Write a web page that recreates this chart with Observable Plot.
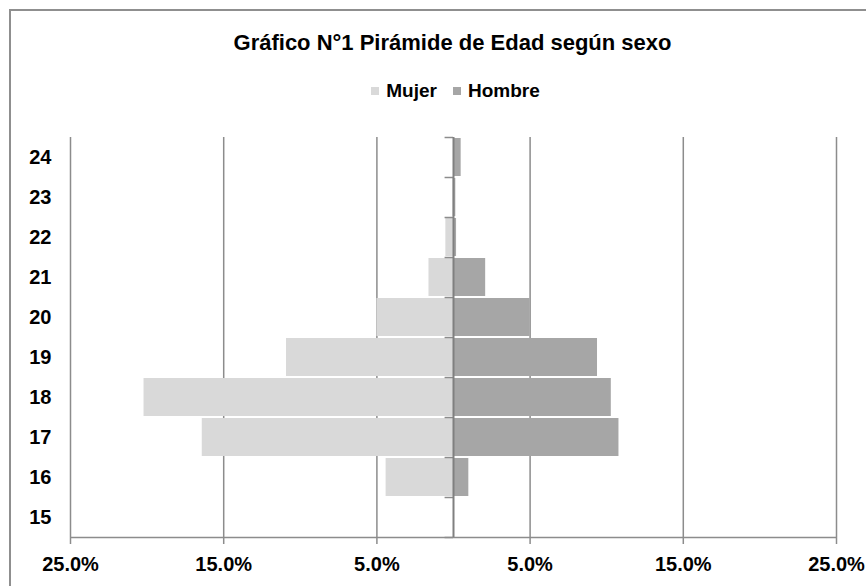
<!DOCTYPE html>
<html><head><meta charset="utf-8">
<script src="https://cdn.jsdelivr.net/npm/d3@7"></script>
<script src="https://cdn.jsdelivr.net/npm/@observablehq/plot@0.6"></script>
<style>
body{margin:0;background:#fff;font-family:"Liberation Sans",Arial,sans-serif;}
#wrap{position:relative;width:866px;height:586px;overflow:hidden;background:#fff;}
#frame{position:absolute;left:9px;top:9px;width:900px;height:640px;border:2px solid #8f8f8f;box-sizing:border-box;}
#title{position:absolute;left:0;top:32px;width:905px;text-align:center;font-weight:bold;font-size:22px;line-height:22px;color:#000;}
#legend{position:absolute;left:0;top:81px;width:911px;display:flex;justify-content:center;align-items:center;font-weight:bold;font-size:19px;line-height:19px;color:#000;}
#legend .sw{width:8px;height:8px;display:inline-block;margin-right:7px;}
#legend .item{display:flex;align-items:center;margin:0 8px;}
#chart{position:absolute;left:0;top:110px;}
</style></head>
<body>
<div id="wrap">
  <div id="frame"></div>
  <div id="title">Gráfico N°1 Pirámide de Edad según sexo</div>
  <div id="legend"></div>
  <div id="chart"></div>
</div>
<script>
const ages = [15, 16, 17, 18, 19, 20, 21, 22, 23, 24];
const mujer = [0, 4.4, 16.4, 20.2, 10.9, 5.0, 1.6, 0.5, 0.05, 0];
const hombre = [0, 1.0, 10.8, 10.3, 9.4, 5.0, 2.1, 0.2, 0.15, 0.5];
const series = ["Mujer", "Hombre"];
const colors = ["#d9d9d9", "#a6a6a6"];
const xTicks = [-25, -15, -5, 5, 15, 25];

const legend = document.getElementById("legend");
series.forEach((s, i) => {
  const it = document.createElement("span");
  it.className = "item";
  it.innerHTML = `<span class="sw" style="background:${colors[i]}"></span>${s}`;
  legend.appendChild(it);
});

const data = [];
ages.forEach((a, i) => {
  data.push({age: a, sexo: "Mujer", x1: -mujer[i], x2: 0});
  data.push({age: a, sexo: "Hombre", x1: 0, x2: hombre[i]});
});

const yDomain = ages.slice().reverse();
const grid = "#8c8c8c";

const chart = Plot.plot({
  width: 866,
  height: 470,
  marginLeft: 70,
  marginRight: 30,
  marginTop: 27,
  marginBottom: 43,
  style: {fontFamily: "Liberation Sans, Arial, sans-serif", fontSize: "20px", fontWeight: "bold", color: "#000", background: "transparent"},
  x: {domain: [-25, 25]},
  y: {domain: yDomain, padding: 0},
  color: {domain: series, range: colors},
  marks: [
    Plot.ruleX(xTicks, {stroke: grid, strokeWidth: 1.5}),
    Plot.barX(data, {x1: "x1", x2: "x2", y: "age", fill: "sexo", insetTop: 1, insetBottom: 1}),
    Plot.ruleY(ages, {y: d => d, x1: -0.55, x2: 0, dy: 20, stroke: grid, strokeWidth: 1.5}),
    Plot.ruleY([24], {y: d => d, x1: -0.55, x2: 0, dy: -20, stroke: grid, strokeWidth: 1.5}),
    Plot.ruleY([15], {y: d => d, x1: -25, x2: 25, dy: 20, stroke: grid, strokeWidth: 1.5}),
    Plot.ruleX([0], {stroke: "#808080", strokeWidth: 2}),
    Plot.axisX({ticks: xTicks, tickSize: 7, tickPadding: 12, stroke: grid, strokeWidth: 1.5,
      tickFormat: d => Math.abs(d).toFixed(1) + "%", label: null, fontSize: 20}),
    Plot.axisY({tickSize: 0, tickPadding: 19, label: null, fontSize: 20})
  ]
});
document.getElementById("chart").appendChild(chart);
</script>
</body></html>
